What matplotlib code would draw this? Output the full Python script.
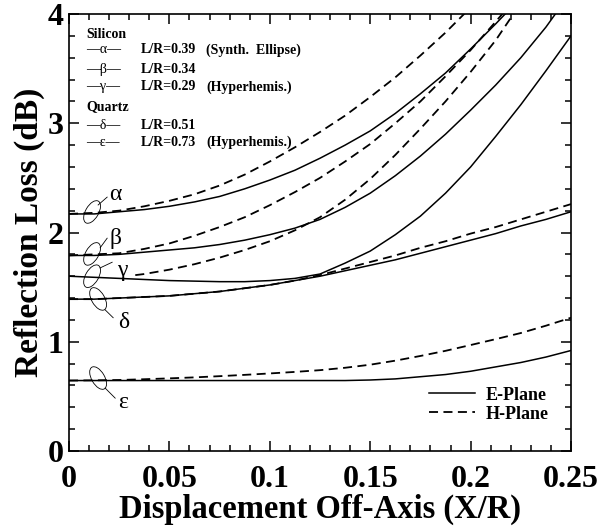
import matplotlib
matplotlib.use("Agg")
import matplotlib.pyplot as plt
from matplotlib.patches import Ellipse
from matplotlib.lines import Line2D
from matplotlib.ticker import MultipleLocator, FixedLocator
import matplotlib.transforms as mtransforms

plt.rcParams['font.family'] = ['Liberation Serif', 'DejaVu Serif']

# displacement grid (X/R)
x = [0, 0.0125, 0.025, 0.0375, 0.05, 0.0625, 0.075, 0.0875, 0.1, 0.1125, 0.125,
     0.1375, 0.15, 0.1625, 0.175, 0.1875, 0.2, 0.2125, 0.225, 0.2375, 0.25]

# reflection loss (dB)
alpha_E = [2.17, 2.17, 2.19, 2.21, 2.24, 2.28, 2.33, 2.40, 2.48, 2.57, 2.68,
           2.80, 2.93, 3.09, 3.27, 3.46, 3.68, 3.91, 4.15]
alpha_H = [2.17, 2.18, 2.20, 2.24, 2.29, 2.35, 2.43, 2.53, 2.65, 2.78, 2.92,
           3.07, 3.24, 3.42, 3.62, 3.83, 4.06]
beta_E = [1.79, 1.79, 1.80, 1.82, 1.84, 1.86, 1.89, 1.93, 1.98, 2.04, 2.12,
          2.23, 2.36, 2.52, 2.70, 2.90, 3.12, 3.35, 3.60, 3.88, 4.2]
beta_H = [1.79, 1.80, 1.81, 1.85, 1.90, 1.97, 2.05, 2.14, 2.25, 2.37, 2.50,
          2.65, 2.81, 3.00, 3.20, 3.43, 3.67, 3.93, 4.2]
gamma_E = [1.60, 1.59, 1.58, 1.57, 1.56, 1.555, 1.55, 1.55, 1.56, 1.58, 1.62,
           1.72, 1.83, 1.98, 2.15, 2.36, 2.60, 2.88, 3.17, 3.48, 3.80]
x_gamma_H = [0.033, 0.0375, 0.05, 0.0625, 0.075, 0.0875, 0.1, 0.1125, 0.125,
             0.1375, 0.15, 0.1625, 0.175, 0.1875, 0.2, 0.2125, 0.225]
gamma_H = [1.61, 1.62, 1.66, 1.71, 1.77, 1.84, 1.92, 2.02, 2.14,
           2.30, 2.49, 2.71, 2.95, 3.20, 3.47, 3.76, 4.1]
delta_E = [1.39, 1.39, 1.40, 1.41, 1.42, 1.44, 1.46, 1.49, 1.52, 1.56, 1.60,
           1.65, 1.70, 1.75, 1.81, 1.87, 1.93, 1.99, 2.06, 2.12, 2.19]
delta_H = [1.39, 1.39, 1.40, 1.41, 1.42, 1.44, 1.46, 1.49, 1.52, 1.56, 1.61,
           1.67, 1.73, 1.79, 1.86, 1.92, 1.99, 2.05, 2.12, 2.19, 2.26]
eps_E = [0.645, 0.645, 0.645, 0.645, 0.645, 0.645, 0.645, 0.645, 0.645, 0.645, 0.645,
         0.645, 0.65, 0.66, 0.68, 0.70, 0.73, 0.77, 0.81, 0.86, 0.92]
eps_H = [0.645, 0.647, 0.65, 0.657, 0.665, 0.674, 0.685, 0.697, 0.71, 0.724, 0.74,
         0.762, 0.79, 0.827, 0.87, 0.917, 0.97, 1.024, 1.08, 1.147, 1.22]

x_ticks = [0, 0.05, 0.1, 0.15, 0.2, 0.25]
x_ticklabels = ["0", "0.05", "0.1", "0.15", "0.2", "0.25"]
y_ticks = [0, 1, 2, 3, 4]

greek = ["α", "β", "γ", "δ", "ε"]
ratios = ["L/R=0.39", "L/R=0.34", "L/R=0.29", "L/R=0.51", "L/R=0.73"]
notes = ["(Synth.  Ellipse)", "", "(Hyperhemis.)", "", "(Hyperhemis.)"]

fig = plt.figure(figsize=(6.0, 5.27), dpi=100)
ax = fig.add_axes([0.115, 0.1442, 0.8367, 0.8292])

solid = dict(color="black", lw=1.1)
dash = dict(color="black", lw=1.3, dashes=(5, 3))

ax.plot(x[:len(alpha_E)], alpha_E, **solid)
ax.plot(x[:len(alpha_H)], alpha_H, **dash)
ax.plot(x[:len(beta_E)], beta_E, **solid)
ax.plot(x[:len(beta_H)], beta_H, **dash)
ax.plot(x, gamma_E, **solid)
ax.plot(x_gamma_H, gamma_H, **dash)
ax.plot(x, delta_E, **solid)
ax.plot(x, delta_H, **dash)
ax.plot(x, eps_E, **solid)
ax.plot(x, eps_H, **dash)

ax.set_xlim(0, 0.25)
ax.set_ylim(0, 4)
ax.xaxis.set_major_locator(FixedLocator(x_ticks))
ax.set_xticklabels(x_ticklabels)
ax.yaxis.set_major_locator(FixedLocator(y_ticks))
ax.xaxis.set_minor_locator(MultipleLocator(0.01))
ax.yaxis.set_minor_locator(MultipleLocator(0.2))
ax.tick_params(which="both", direction="in", top=True, right=True, width=1.1)
ax.tick_params(which="major", length=7, labelsize=23)
ax.tick_params(axis="x", which="major", pad=10)
ax.tick_params(axis="y", which="major", pad=4)
ax.tick_params(which="minor", length=4)
for lab in ax.get_xticklabels() + ax.get_yticklabels():
    lab.set_fontweight("bold")
for sp in ax.spines.values():
    sp.set_linewidth(1.2)

ax.set_xlabel("Displacement Off-Axis (X/R)", fontsize=23.5, fontweight="bold", labelpad=0)
ax.set_ylabel("Reflection Loss (dB)", fontsize=24, fontweight="bold", labelpad=2)

# text block, top left
ax.text(0.034, 0.952, "Silicon", transform=ax.transAxes, fontsize=10, fontweight="bold", va="center")
ax.text(0.034, 0.787, "Quartz", transform=ax.transAxes, fontsize=10, fontweight="bold", va="center")
rows_y = [0.918, 0.872, 0.833, 0.746, 0.707]
for g, r, n, yy in zip(greek, ratios, notes, rows_y):
    ax.text(0.034, yy, "—" + g + "—", transform=ax.transAxes, fontsize=10, va="center")
    ax.text(0.143, yy, r, transform=ax.transAxes, fontsize=10, fontweight="bold", va="center")
    if n:
        ax.text(0.273, yy, n, transform=ax.transAxes, fontsize=10, fontweight="bold", va="center")

# greek labels, ellipses and leader lines (axes fractions)
label_pos = [(0.092, 0.586), (0.092, 0.487), (0.106, 0.414), (0.108, 0.293), (0.108, 0.110)]
ell_pos = [(0.046, 0.547), (0.046, 0.451), (0.046, 0.400), (0.058, 0.348), (0.058, 0.167)]
leaders = [((0.058, 0.563), (0.076, 0.581)),
           ((0.062, 0.465), (0.076, 0.487)),
           ((0.062, 0.419), (0.086, 0.432)),
           ((0.072, 0.323), (0.088, 0.305)),
           ((0.072, 0.144), (0.092, 0.121))]
angles = [60, 60, 60, 120, 120]
for g, lp, ep, ld, ang in zip(greek, label_pos, ell_pos, leaders, angles):
    ax.text(lp[0], lp[1], g, transform=ax.transAxes, fontsize=17, ha="center", va="center")
    tr = fig.dpi_scale_trans + mtransforms.ScaledTranslation(ep[0], ep[1], ax.transAxes)
    ax.add_patch(Ellipse((0, 0), 0.25, 0.13, angle=ang, transform=tr, fill=False,
                         lw=0.6, color="black", clip_on=False))
    ax.plot([ld[0][0], ld[1][0]], [ld[0][1], ld[1][1]], transform=ax.transAxes,
            color="black", lw=0.6)

handles = [Line2D([], [], color="black", lw=1.1),
           Line2D([], [], color="black", lw=1.3, dashes=(5, 3))]
ax.legend(handles, ["E-Plane", "H-Plane"], loc="lower right", bbox_to_anchor=(0.955, 0.065),
          frameon=False, prop={"weight": "bold", "size": 13}, handlelength=2.5,
          labelspacing=0.1, handletextpad=0.6, borderaxespad=0, borderpad=0)

fig.savefig("out.png", dpi=100)
